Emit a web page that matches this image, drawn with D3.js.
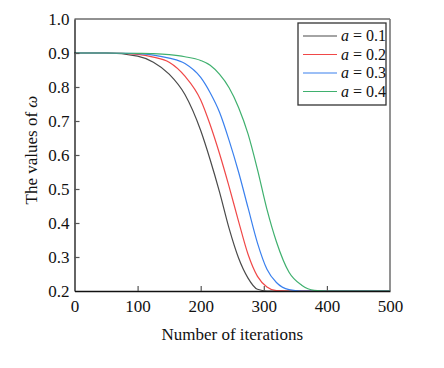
<!DOCTYPE html>
<html>
<head>
<meta charset="utf-8">
<script src="https://cdn.jsdelivr.net/npm/d3@7"></script>
<style>
  body { margin: 0; background: #fff; }
  svg text { font-family: "Liberation Serif", "DejaVu Serif", serif; fill: #111; }
</style>
</head>
<body>
<svg id="chart" width="444" height="368"></svg>
<script>
// iterations
var iterations = [0, 50, 100, 125, 150, 175, 200, 215, 230, 245, 260, 275, 290, 305, 320, 340, 360, 380, 400, 500];
var omegaA1 = [0.900, 0.900, 0.891, 0.873, 0.838, 0.778, 0.672, 0.586, 0.490, 0.384, 0.297, 0.238, 0.205, 0.200, 0.200, 0.200, 0.200, 0.200, 0.200, 0.200];
var omegaA2 = [0.900, 0.900, 0.896, 0.888, 0.873, 0.832, 0.762, 0.689, 0.603, 0.507, 0.405, 0.308, 0.243, 0.212, 0.201, 0.200, 0.200, 0.200, 0.200, 0.200];
var omegaA3 = [0.900, 0.900, 0.898, 0.894, 0.885, 0.869, 0.828, 0.783, 0.725, 0.643, 0.550, 0.445, 0.341, 0.264, 0.225, 0.204, 0.200, 0.200, 0.200, 0.200];
var omegaA4 = [0.900, 0.900, 0.899, 0.898, 0.895, 0.889, 0.878, 0.864, 0.837, 0.798, 0.740, 0.662, 0.557, 0.440, 0.345, 0.255, 0.217, 0.202, 0.200, 0.200];
var seriesNames = ["0.1", "0.2", "0.3", "0.4"];
var xTicks = [0, 100, 200, 300, 400, 500];
var yTicks = [0.2, 0.3, 0.4, 0.5, 0.6, 0.7, 0.8, 0.9, 1.0];

var colors = ["#4a4a4a", "#f04848", "#3a80ee", "#3fb06e"];
var allSeries = [omegaA1, omegaA2, omegaA3, omegaA4];

var svg = d3.select("#chart");
var pLeft = 74.5, pRight = 390, pTop = 19, pBottom = 291;

var x = d3.scaleLinear().domain([0, 500]).range([pLeft, pRight]);
var y = d3.scaleLinear().domain([0.2, 1.0]).range([pBottom, pTop]);

// frame: top and right
svg.append("line")
    .attr("x1", pLeft).attr("x2", pRight).attr("y1", pTop).attr("y2", pTop)
    .attr("stroke", "#222").attr("stroke-width", 1);
svg.append("line")
    .attr("x1", pRight).attr("x2", pRight).attr("y1", pTop).attr("y2", pBottom)
    .attr("stroke", "#777").attr("stroke-width", 1.6);

// curves
var line = d3.line()
    .curve(d3.curveMonotoneX)
    .x(function (d) { return x(d[0]); })
    .y(function (d) { return y(d[1]); });

allSeries.forEach(function (vals, i) {
    svg.append("path")
        .datum(iterations.map(function (it, j) { return [it, vals[j]]; }))
        .attr("fill", "none")
        .attr("stroke", colors[i])
        .attr("stroke-width", 1.2)
        .attr("d", line);
});

// axes with inward ticks
var xAxis = svg.append("g")
    .attr("transform", "translate(0," + pBottom + ")")
    .call(d3.axisBottom(x).tickValues(xTicks).tickSizeInner(-5).tickSizeOuter(0).tickPadding(9));
var yAxis = svg.append("g")
    .attr("transform", "translate(" + pLeft + ",0)")
    .call(d3.axisLeft(y).tickValues(yTicks).tickFormat(d3.format(".1f")).tickSizeInner(-5).tickSizeOuter(0).tickPadding(5));

[xAxis, yAxis].forEach(function (g) {
    g.select(".domain").attr("stroke", "#111").attr("stroke-width", 1.3);
    g.selectAll(".tick line").attr("stroke", "#555").attr("stroke-width", 1.2);
    g.selectAll(".tick text")
        .style("font-family", "'Liberation Serif', serif")
        .style("font-size", "17px")
        .attr("fill", "#111");
});
xAxis.selectAll(".tick").filter(function (d) { return d === 0 || d === 500; }).select("line").remove();
yAxis.selectAll(".tick").filter(function (d) { return d === 0.2 || d === 1.0; }).select("line").remove();

// axis titles
svg.append("text")
    .attr("x", (pLeft + pRight) / 2)
    .attr("y", 340)
    .attr("text-anchor", "middle")
    .style("font-size", "17px")
    .text("Number of iterations");

var yTitle = svg.append("text")
    .attr("transform", "translate(37,150) rotate(-90)")
    .attr("text-anchor", "middle")
    .style("font-size", "17px");
yTitle.append("tspan").text("The values of ");
yTitle.append("tspan").style("font-style", "italic").text("ω");

// legend
var legend = svg.append("g");
legend.append("rect")
    .attr("x", 298).attr("y", 23).attr("width", 88).attr("height", 82)
    .attr("fill", "#fff").attr("stroke", "#333").attr("stroke-width", 1.3);

seriesNames.forEach(function (name, i) {
    var ly = 36 + i * 18.5;
    legend.append("line")
        .attr("x1", 303).attr("x2", 337).attr("y1", ly).attr("y2", ly)
        .attr("stroke", colors[i]).attr("stroke-width", 1.2);
    var t = legend.append("text")
        .attr("x", 341).attr("y", ly + 5)
        .style("font-size", "16px");
    t.append("tspan").style("font-style", "italic").text("a");
    t.append("tspan").text(" = " + name);
});
</script>
</body>
</html>
